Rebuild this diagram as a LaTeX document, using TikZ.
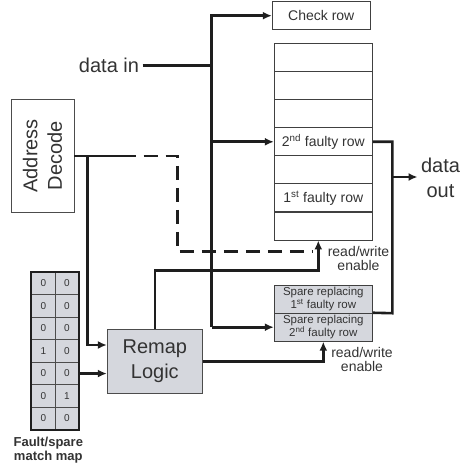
\documentclass[tikz,border=0pt]{standalone}
\usepackage{fontspec}
\setmainfont{Liberation Sans}
\usepackage{tikz}
\usetikzlibrary{positioning}
\usetikzlibrary{arrows.meta,shapes}
\usetikzlibrary{calc}
\definecolor{txtgray}{HTML}{333333}
\definecolor{wiregray}{HTML}{1E1E1E}
\definecolor{boxfill}{HTML}{D5D7DD}
\tikzstyle{rowbox}=[rectangle,draw=black!75,line width=0.9pt,minimum width=98pt,minimum height=28pt,inner sep=0pt,text=txtgray,font=\fontsize{14}{16}\selectfont]
\tikzstyle{sparebox}=[rowbox,fill=boxfill,align=center,font=\fontsize{11.5}{10.5}\selectfont]
\tikzstyle{cell}=[rectangle,draw=black!70,line width=1pt,fill=boxfill,minimum width=23.5pt,minimum height=22.5pt,inner sep=0pt,text=txtgray,font=\fontsize{10}{12}\selectfont]
\tikzstyle{wire} = [draw=wiregray,line width=2.6pt]
\tikzstyle{dashwire} = [wire,dash pattern=on 14pt off 8pt]
\tikzstyle{arr} = [-{Latex[length=9pt,width=8pt]}]
\tikzstyle{biglbl} = [text=txtgray,align=center,font=\fontsize{20}{24.5}\selectfont]
\tikzstyle{smalllbl} = [text=txtgray,align=center,font=\fontsize{14}{13.5}\selectfont]

\begin{document}
\begin{tikzpicture}[x=1pt,y=-1pt]
    \useasboundingbox (0,0) rectangle (461,465);
    % Memory rows, check row and the spares
    \node[rowbox] (checkrow) at (321.3,15.7) {Check row};
    \foreach \name/\y/\txt in {row1/57.7/{}, row2/85.8/{}, row3/113.8/{},
    row4/141.8/{2\textsuperscript{nd} faulty row}, row5/169.9/{},
    row6/197.9/{1\textsuperscript{st} faulty row}, row7/226.0/{}}
        \node[rowbox] (\name) at (323.3,\y) {\txt};
    \node[sparebox] (spare1) at (323.3,299.2) {Spare replacing\\1\textsuperscript{st} faulty row};
    \node[sparebox] (spare2) at (323.3,327.2) {Spare replacing\\2\textsuperscript{nd} faulty row};

    % Decoder and remap logic (addr is turned, so its right side is addr.south)
    \node[rectangle,draw=black!70,line width=0.9pt,minimum width=112.3pt,minimum height=63pt,
          rotate=90,biglbl] (addr) at (42.5,155.85) {Address\\Decode};
    \node[rectangle,draw=black!70,line width=0.9pt,fill=boxfill,minimum width=95pt,
          minimum height=64pt,biglbl] (remap) at (154.8,361.3) {Remap\\Logic};

    % Fault/spare match map
    \foreach \r/\a/\b in {1/0/0, 2/0/0, 3/0/0, 4/1/0, 5/0/0, 6/0/1, 7/0/0}{
        \node[cell] (ma\r) at (43.45,{272.3+22.5*(\r-0.5)}) {\a};
        \node[cell] (mb\r) at (66.95,{272.3+22.5*(\r-0.5)}) {\b};
    }
    \draw[draw=wiregray,line width=2.3pt] (ma1.north west) rectangle (mb7.south east);
    \node[text=txtgray,align=center,font=\bfseries\fontsize{13}{14.5}\selectfont] (mapcap) at (48.3,450.3) {Fault/spare\\match map};

    % Labels
    \node[biglbl] (datain) at (109,65.5) {data in};
    \node[biglbl] (dataout) at (440.5,178) {data\\out};
    \node[smalllbl] (rwtop) at (358.5,258.3) {read/write\\enable};
    \node[smalllbl] (rwbot) at (362,359.3) {read/write\\enable};

    % Data in bus
    \coordinate (bus) at (211.7,0);
    \draw[wire] (datain.east) -- (bus |- datain.east);
    \draw[wire,arr] (bus |- spare2.west) -- (bus |- checkrow.west) -- (checkrow.west);
    \draw[wire,arr] (bus |- spare2.west) -- (spare2.west);
    \draw[wire,arr] (bus |- row4.west) -- (row4.west);

    % Data out
    \coordinate (outknee) at (392.3,313.2);
    \draw[wire] (row4.east) -| (outknee) -- (spare2.north east);
    \draw[wire,arr] (outknee |- 0,177) -- (dataout.west |- 0,177);

    % Address decode to array (dashed) and to remap logic
    \coordinate (addrtap) at (87.3,155.85);
    \coordinate (dashstart) at (121.7,155.85);
    \coordinate (dashend) at (312,251.7);
    \draw[wire] (addr.south) -- (dashstart);
    \draw[dashwire] (dashstart) -- ++(56,0) |- (dashend);
    \draw[wire,arr] (addrtap) |- (remap.west |- 0,345);
    \draw[wire,arr] (mb5.east) -- (remap.west |- mb5.east);

    % Remap logic to the read/write enables
    \coordinate (rwknee) at (318.3,270.7);
    \draw[wire,arr] (remap.north) |- (rwknee) -- (row7.south -| rwknee);
    \draw[wire,arr] (remap.east) -| (spare2.south);
\end{tikzpicture}
\end{document}
